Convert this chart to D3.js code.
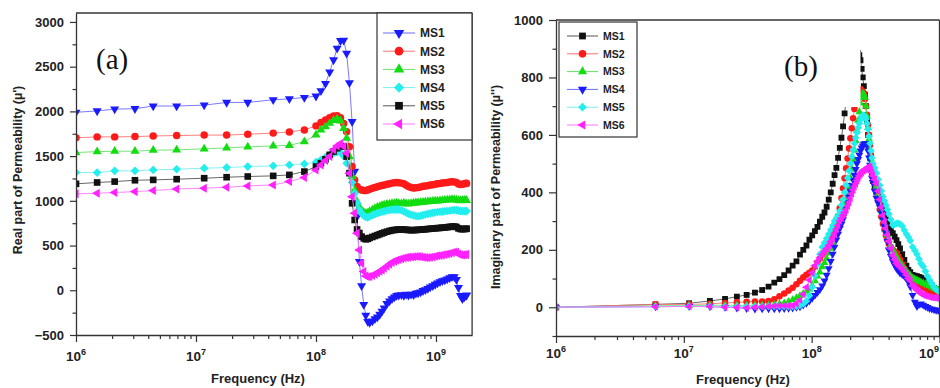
<!DOCTYPE html>
<html><head><meta charset="utf-8">
<script src="https://cdn.jsdelivr.net/npm/d3@7"></script>
<style>
body{margin:0;background:#fff}
svg{display:block}
</style>
</head><body>
<svg id="c" width="940" height="388"></svg>
<script>
// ---------------- DATA ----------------
const seriesNames = ["MS1","MS2","MS3","MS4","MS5","MS6"];

// Panel (a): real part, frequency in MHz
const freqA = [1,1.5,2.1,3.1,4.4,6.9,11.7,18,27,44,
  60,80,100,110,120,130,140,150,160,170,
  180,190,200,210,220,230,240,250,260,270,
  280,295,310,325,340,355,370,390,410,430,450,470,490,
  515,540,565,590,620,650,680,710,745,780,815,855,895,
  940,985,1030,1080,1130,1185,1240,1300,1360,1420,1480,1540,
  1600,1660,1720,1780,1800];
const realMS1 = [1990,2005,2025,2030,2060,2060,2070,2100,2100,2130,
  2140,2155,2170,2230,2310,2440,2575,2705,2790,2795,
  2650,2320,1885,1330,825,320,50,-160,-280,-350,
  -360,-345,-320,-300,-270,-235,-200,-150,-120,-95,-75,-60,-55,
  -50,-60,-45,-55,-45,-50,-35,-30,-20,-5,5,20,35,
  50,65,80,95,105,115,125,140,150,150,120,30,
  -60,-95,-75,-60,-55];
const realMS2 = [1705,1715,1715,1718,1725,1730,1735,1735,1745,1757,
  1770,1793,1838,1875,1905,1930,1948,1950,1930,1865,
  1772,1606,1383,1234,1160,1130,1120,1115,1115,1120,
  1130,1140,1150,1158,1165,1172,1178,1186,1192,1198,1202,1205,1203,
  1198,1190,1175,1160,1150,1143,1145,1150,1155,1162,1165,1170,1176,
  1180,1186,1190,1195,1200,1202,1205,1210,1213,1212,1205,1188,
  1182,1185,1192,1196,1195];
const realMS3 = [1540,1550,1555,1555,1566,1570,1581,1592,1603,1614,
  1620,1662,1737,1793,1830,1868,1900,1915,1895,1810,
  1700,1495,1272,1122,991,930,890,870,862,865,
  880,898,915,928,938,948,955,962,966,970,972,975,972,
  968,975,968,965,970,975,978,980,983,986,988,990,993,
  995,998,1000,1002,1005,1008,1010,1013,1015,1014,1010,1005,
  1003,1005,1006,1005,1005];
const realMS4 = [1316,1316,1335,1335,1346,1353,1365,1372,1383,1391,
  1402,1413,1432,1458,1488,1514,1533,1545,1540,1500,
  1421,1309,1205,1085,972,900,860,835,820,815,
  825,840,852,862,870,878,884,892,896,900,902,905,902,
  895,882,868,856,845,838,830,828,833,840,847,855,860,
  866,870,875,878,880,883,886,890,895,898,898,890,
  886,885,885,886,885];
const realMS5 = [1190,1205,1215,1230,1234,1242,1253,1264,1272,1279,
  1290,1327,1383,1421,1465,1514,1551,1588,1614,1607,
  1495,1309,972,786,680,640,600,580,570,575,
  585,596,607,617,627,636,645,655,663,670,674,677,679,
  680,679,676,674,672,672,674,676,678,680,682,685,688,
  690,693,695,697,700,702,705,709,712,713,708,692,
  685,683,685,687,688];
const realMS6 = [1078,1085,1093,1103,1115,1133,1141,1152,1167,1178,
  1215,1260,1346,1402,1450,1495,1570,1614,1640,1607,
  1533,1309,1047,860,637,451,302,209,160,150,
  155,165,180,195,212,228,245,268,292,312,325,335,343,
  352,360,366,370,373,375,377,378,374,370,367,365,368,
  373,380,385,390,395,400,405,412,420,428,425,405,
  397,395,398,400,400];

// Panel (b): imaginary part, frequency in MHz
const freqB = [1,6,11,16,21,26,31,36,41,46,
  51,56,61,66,71,76,81,86,91,96,
  101,106,111,116,121,126,131,136,141,146,
  151,156,161,166,171,176,181,186,191,196,
  201,206,211,216,221,226,231,236,241,246,
  251,256,261,266,271,276,281,286,291,296,
  301,
  311,321,331,341,351,361,371,381,391,401,
  416,431,446,461,476,491,
  511,531,551,571,591,
  616,641,666,691,716,
  746,776,806,836,
  871,906,941,976,1001];
const imagMS1 = [0,10,14,22,29,37,43,51,60,72,
  86,98,112,128,145,160,183,200,215,235,
  250,265,280,298,315,330,350,375,400,430,
  460,485,520,555,590,630,675,720,765,805,
  840,865,885,895,900,895,885,878,860,830,
  800,770,740,700,650,600,560,520,490,460,
  440,
  420,400,385,370,355,340,322,305,292,280,
  268,258,246,234,220,205,
  185,165,145,130,122,
  113,110,108,106,103,
  100,96,90,85,
  76,67,62,57,54];
const imagMS2 = [0,10,10,12,15,17,19,20,20,22,
  28,38,48,58,68,80,92,104,113,120,
  128,140,155,170,185,200,215,232,250,268,
  285,300,318,345,380,414,449,484,518,553,
  588,623,658,690,715,735,750,760,760,755,
  750,745,725,700,670,635,600,565,530,495,
  465,
  430,400,370,340,315,290,270,250,235,220,
  210,200,194,188,177,165,
  150,135,120,110,103,
  92,88,85,80,76,
  70,66,60,56,
  51,47,44,40,38];
const imagMS3 = [0,5,6,7,7,7,7,7,7,8,
  9,12,15,20,26,33,40,48,55,62,
  75,92,108,122,140,155,170,188,205,223,
  240,258,275,300,325,345,360,375,395,420,
  450,480,515,547,580,615,650,680,710,730,
  745,742,730,700,665,625,585,550,515,485,
  460,
  440,420,390,360,335,310,290,270,252,235,
  215,200,188,175,165,155,
  145,135,125,117,110,
  102,98,95,91,88,
  84,81,77,74,
  70,66,63,60,58];
const imagMS4 = [0,2,3,2,0,-2,-4,-6,-5,-5,
  -5,-5,-4,-3,-2,0,2,8,14,22,
  32,42,52,62,75,92,112,135,160,185,
  210,235,255,275,290,305,325,345,365,385,
  405,425,443,460,480,500,515,530,545,555,
  562,568,570,570,565,545,520,495,470,450,
  435,
  405,380,365,350,328,305,282,260,230,200,
  178,160,147,135,127,120,
  114,108,100,88,72,
  42,18,3,10,12,
  8,3,0,-4,
  -6,-8,-10,-11,-12];
const imagMS5 = [0,3,4,4,3,3,3,3,3,3,
  3,3,3,3,3,4,6,12,22,40,
  70,110,150,185,210,225,240,255,270,285,
  300,310,320,335,355,375,400,425,450,475,
  500,525,548,570,590,608,625,640,652,662,
  668,668,665,655,640,620,595,570,545,520,
  500,
  485,467,445,425,405,385,370,355,340,325,
  305,286,288,292,292,290,
  283,268,255,245,232,
  210,198,185,168,152,
  142,125,108,95,
  82,70,62,56,52];
const imagMS6 = [0,2,3,3,0,-1,-2,0,2,3,
  4,5,5,5,6,12,25,45,70,95,
  120,145,160,172,185,195,205,215,228,240,
  255,270,285,300,310,320,330,340,352,365,
  380,395,408,420,430,440,450,458,465,470,
  475,478,480,482,485,488,489,487,478,468,
  458,
  445,431,405,375,348,320,298,275,252,230,
  205,180,165,153,146,140,
  133,124,112,100,92,
  75,67,60,54,48,
  43,40,38,36,
  34,33,32,31,31];

// Tick labels
const yTicksA = [-500,0,500,1000,1500,2000,2500,3000];
const yMinorA = [-250,250,750,1250,1750,2250,2750];
const yTicksB = [0,200,400,600,800,1000];
const yMinorB = [-100,100,300,500,700,900];
const xTickExpA = [6,7,8,9];
const xTickExpB = [6,7,8,9];

// ---------------- STYLE ----------------
const SANS = "'Liberation Sans',Arial,Helvetica,sans-serif";
const SERIF = "'Liberation Serif','Times New Roman',serif";
const stylesA = [
  {color:"#1a1aff", line:"#6b6bff", sym:"tdown"},
  {color:"#ff1a1a", line:"#ff7070", sym:"circle"},
  {color:"#11dd11", line:"#66e066", sym:"tup"},
  {color:"#22eeee", line:"#77eeee", sym:"diamond"},
  {color:"#111111", line:"#555555", sym:"square"},
  {color:"#ff22ff", line:"#ff77ff", sym:"tleft"}
];
const stylesB = [
  {color:"#111111", line:"#555555", sym:"square"},
  {color:"#ff1a1a", line:"#ff7070", sym:"circle"},
  {color:"#11dd11", line:"#66e066", sym:"tup"},
  {color:"#1a1aff", line:"#6b6bff", sym:"tdown"},
  {color:"#22eeee", line:"#77eeee", sym:"diamond"},
  {color:"#ff22ff", line:"#ff77ff", sym:"tleft"}
];

function symPath(sym, size){
  if (sym==="circle") return {d:d3.symbol(d3.symbolCircle, size)(), rot:0};
  if (sym==="square") return {d:d3.symbol(d3.symbolSquare, size)(), rot:0};
  if (sym==="diamond") return {d:d3.symbol(d3.symbolSquare, size*0.85)(), rot:45};
  if (sym==="tup") return {d:d3.symbol(d3.symbolTriangle, size*0.8)(), rot:0};
  if (sym==="tdown") return {d:d3.symbol(d3.symbolTriangle, size*0.8)(), rot:180};
  if (sym==="tleft") return {d:d3.symbol(d3.symbolTriangle, size*0.8)(), rot:-90};
}

const svg = d3.select("#c");
const AX = "#333";

function panel(cfg){
  const x = d3.scaleLog().domain(cfg.xDomain).range([cfg.left, cfg.right]);
  const y = d3.scaleLinear().domain(cfg.yDomain).range([cfg.bottom, cfg.top]);
  const g = svg.append("g");

  const clipId = "clip" + cfg.id;
  svg.append("defs").append("clipPath").attr("id", clipId)
    .append("rect").attr("x", cfg.left).attr("y", cfg.top)
    .attr("width", Math.max(0,Math.min(cfg.right,940)-cfg.left)).attr("height", cfg.bottom-cfg.top);

  const dg = g.append("g").attr("clip-path", "url(#"+clipId+")");
  const line = d3.line().x(d=>x(d[0]*1e6)).y(d=>y(d[1]));
  cfg.series.forEach((vals,i)=>{
    const st = cfg.styles[i];
    const pts = cfg.freq.map((f,k)=>[f, vals[k]]);
    dg.append("path").attr("d", line(pts)).attr("fill","none")
      .attr("stroke", st.line).attr("stroke-width", 0.9);
    const sp = symPath(st.sym, cfg.msize);
    dg.selectAll(null).data(pts).enter().append("path")
      .attr("d", sp.d)
      .attr("transform", d=>`translate(${x(d[0]*1e6)},${y(d[1])}) rotate(${sp.rot})`)
      .attr("fill", st.color);
  });

  if (cfg.labelBox){
    const b = cfg.labelBox;
    g.append("rect").attr("x",b[0]).attr("y",b[1]).attr("width",b[2]).attr("height",b[3]).attr("fill","#fff");
  }
  g.append("text").attr("x", cfg.labelPos[0]).attr("y", cfg.labelPos[1])
    .style("font-family", SERIF).style("font-size","29px").attr("fill","#111").text(cfg.label);

  // frame
  g.append("line").attr("x1",cfg.left).attr("x2",Math.min(cfg.right,940)).attr("y1",cfg.top).attr("y2",cfg.top)
    .attr("stroke",AX).attr("stroke-width",1.3);
  if (cfg.right <= 940){
    g.append("line").attr("x1",cfg.right).attr("x2",cfg.right).attr("y1",cfg.top).attr("y2",cfg.bottom)
      .attr("stroke",AX).attr("stroke-width",1.3);
  }

  // x axis
  const majors = cfg.xExp.map(e=>Math.pow(10,e));
  const minors = [];
  cfg.xExp.forEach(e=>{ [2,3,4,5,6,7,8,9].forEach(m=>{ const v=m*Math.pow(10,e); if (v<cfg.xDomain[1]) minors.push(v); }); });
  const xa = g.append("g").attr("transform",`translate(0,${cfg.bottom})`)
    .call(d3.axisBottom(x).tickValues(majors).tickFormat("").tickSize(7).tickSizeOuter(0));
  const xm = g.append("g").attr("transform",`translate(0,${cfg.bottom})`)
    .call(d3.axisBottom(x).tickValues(minors).tickFormat("").tickSize(4).tickSizeOuter(0));
  xm.select(".domain").remove();
  [xa,xm].forEach(a=>{ a.select(".domain").attr("stroke",AX).attr("stroke-width",1.3); a.selectAll(".tick line").attr("stroke",AX).attr("stroke-width",1.2); });

  cfg.xExp.forEach(e=>{
    let px = x(Math.pow(10,e)), anchor = "middle";
    if (px > 925){ px = 939; anchor = "end"; }
    const t = g.append("text").attr("x", px).attr("y", cfg.xLabelY)
      .attr("text-anchor",anchor).style("font-family",SANS).style("font-size","13.5px").style("font-weight","bold").attr("fill","#222");
    t.append("tspan").text("10");
    t.append("tspan").attr("dy",-6).style("font-size","9px").text(String(e));
  });
  g.append("text").attr("x", cfg.xTitle[0]).attr("y", cfg.xTitle[1]).attr("text-anchor","middle")
    .style("font-family",SANS).style("font-size","13px").style("font-weight","bold").attr("fill","#222").text("Frequency (Hz)");

  // y axis
  const ya = g.append("g").attr("transform",`translate(${cfg.left},0)`)
    .call(d3.axisLeft(y).tickValues(cfg.yTicks).tickFormat(d3.format("d")).tickSize(cfg.ytick).tickPadding(6).tickSizeOuter(0));
  const ym = g.append("g").attr("transform",`translate(${cfg.left},0)`)
    .call(d3.axisLeft(y).tickValues(cfg.yMinor).tickFormat("").tickSize(3.5).tickSizeOuter(0));
  ym.select(".domain").remove();
  [ya,ym].forEach(a=>{ a.select(".domain").attr("stroke",AX).attr("stroke-width",1.3); a.selectAll(".tick line").attr("stroke",AX).attr("stroke-width",1.2); });
  ya.selectAll(".tick text").style("font-size","13px").style("font-weight","bold").attr("fill","#222")
    .style("font-family",SANS);

  g.append("text").attr("transform",`translate(${cfg.yTitle[0]},${cfg.yTitle[1]}) rotate(-90)`)
    .attr("text-anchor","middle").style("font-family",SANS).style("font-size","12.5px").style("font-weight","bold").attr("fill","#222")
    .text(cfg.yTitleText);

  // legend
  const L = cfg.legend;
  g.append("rect").attr("x",L.x).attr("y",L.y).attr("width",L.w).attr("height",L.h)
    .attr("fill","#fff").attr("stroke",AX).attr("stroke-width",1.2);
  seriesNames.forEach((n,i)=>{
    const st = cfg.styles[i];
    const yy = L.y0 + i*L.dy;
    g.append("line").attr("x1",L.l1).attr("x2",L.l2).attr("y1",yy).attr("y2",yy)
      .attr("stroke",st.line).attr("stroke-width",1);
    const sp = symPath(st.sym, L.ms);
    g.append("path").attr("d",sp.d).attr("transform",`translate(${(L.l1+L.l2)/2},${yy}) rotate(${sp.rot})`).attr("fill",st.color);
    g.append("text").attr("x",L.tx).attr("y",yy).attr("dy","0.36em").style("font-family",SANS).style("font-size",L.fs+"px")
      .style("font-weight","bold").attr("fill","#222").text(n);
  });
}

panel({
  id:"A", left:76, right:472.1, top:13, bottom:335,
  xDomain:[1e6, 2e9], yDomain:[-500,3100],
  freq:freqA, series:[realMS1,realMS2,realMS3,realMS4,realMS5,realMS6],
  styles:stylesA, msize:44,
  xExp:xTickExpA, xLabelY:361, xTitle:[258,383],
  yTicks:yTicksA, yMinor:yMinorA, ytick:6,
  yTitle:[22,170], yTitleText:"Real part of Permeability (\u00b5')",
  label:"(a)", labelPos:[96,69],
  legend:{x:377,y:13,w:95,h:127,y0:33,dy:18.2,l1:383,l2:415,ms:60,tx:420,fs:12}
});

panel({
  id:"B", left:556, right:939.5, top:20, bottom:336,
  xDomain:[1e6, 1e9], yDomain:[-100,1000],
  freq:freqB, series:[imagMS1,imagMS2,imagMS3,imagMS4,imagMS5,imagMS6],
  styles:stylesB, msize:34,
  xExp:xTickExpB, xLabelY:358, xTitle:[743,384],
  yTicks:yTicksB, yMinor:yMinorB, ytick:7,
  yTitle:[500,187], yTitleText:"Imaginary part of Permeability (\u00b5'')",
  label:"(b)", labelPos:[784,76], labelBox:[762,30,98.5,77],
  legend:{x:559,y:22,w:78,h:115,y0:36,dy:17.8,l1:567,l2:598,ms:46,tx:603,fs:10.5}
});
</script>
</body></html>
